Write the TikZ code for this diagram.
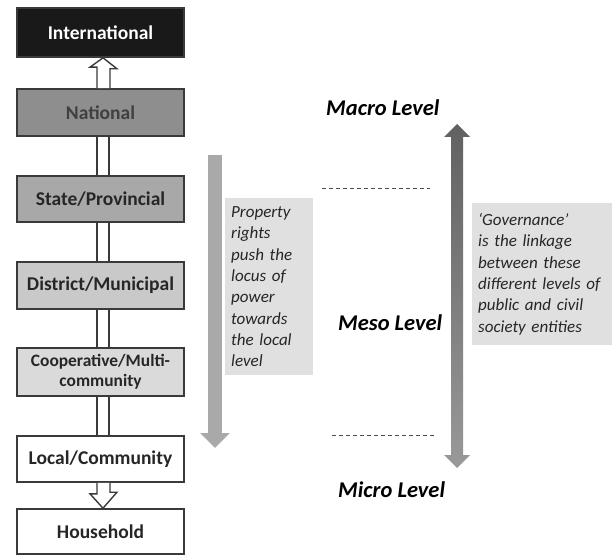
\documentclass[tikz,border=0pt]{standalone}
\usepackage{fontspec}
\setmainfont{Carlito}
\usetikzlibrary{arrows.meta}
\definecolor{edgec}{HTML}{3A3A3A}
\definecolor{natc}{HTML}{8E8E8E}
\definecolor{statec}{HTML}{A8A8A8}
\definecolor{distc}{HTML}{C9C9C9}
\definecolor{coopc}{HTML}{DADADA}
\definecolor{notec}{HTML}{E0E0E0}
\definecolor{garrow}{HTML}{A9A9A9}
\begin{document}
\begin{tikzpicture}[x=1pt,y=-1pt,
  lvl/.style={draw=edgec,line width=1.6pt,minimum width=167pt,inner sep=0pt,font=\bfseries\fontsize{19.5}{21}\selectfont,text=black!85,align=center},
  hollow/.style={draw=edgec,line width=1.4pt,fill=white,line join=miter},
  dbl/.style={draw=edgec,line width=1.4pt},
  note/.style={fill=notec,inner sep=6pt,anchor=north west,align=left,font=\itshape\fontsize{17}{21.3}\selectfont,text=black!85},
  lvltext/.style={font=\bfseries\itshape\fontsize{22.5}{24}\selectfont,anchor=west,inner sep=0pt},
  sep/.style={draw=black!70,dashed,line width=0.8pt,dash pattern=on 4pt off 3pt}]
\useasboundingbox (0,0) rectangle (612,556);
\fill[white] (0,0) rectangle (612,556);

% level boxes
\node[lvl,fill=black!90,text=white,minimum height=49pt] (int) at (100.5,32.5) {International};
\node[lvl,fill=natc,text=black!75,minimum height=47pt] (nat) at (100.5,112.5) {National};
\node[lvl,fill=statec,minimum height=46pt] (st) at (100.5,199) {State/Provincial};
\node[lvl,fill=distc,minimum height=47pt] (dm) at (100.5,285.5) {District/Municipal};
\node[lvl,fill=coopc,minimum height=48pt,font=\bfseries\fontsize{17.4}{20}\selectfont] (co) at (100.5,372) {Cooperative/Multi-\\community};
\node[lvl,fill=white,minimum height=46pt] (lc) at (100.5,459) {Local/Community};
\node[lvl,fill=white,minimum height=45pt] (hh) at (100.5,531.5) {Household};

% hollow up arrow National -> International
\draw[hollow] ([xshift=-3.5pt]nat.north) -- ++(0,-21) -- ++(-7,0) -- ([xshift=2.5pt]int.south) -- ([xshift=16.5pt,yshift=-11pt]int.south) -- ++(-7,0) -- ([xshift=9.5pt]nat.north);
% double lines
\draw[dbl] ([xshift=-3.5pt]st.north) -- ([xshift=-3.5pt]nat.south);
\draw[dbl] ([xshift=8.5pt]st.north) -- ([xshift=8.5pt]nat.south);
\draw[dbl] ([xshift=-3.5pt]dm.north) -- ([xshift=-3.5pt]st.south);
\draw[dbl] ([xshift=8.5pt]dm.north) -- ([xshift=8.5pt]st.south);
\draw[dbl] ([xshift=-3.5pt]co.north) -- ([xshift=-3.5pt]dm.south);
\draw[dbl] ([xshift=8.5pt]co.north) -- ([xshift=8.5pt]dm.south);
\draw[dbl] ([xshift=-3.5pt]lc.north) -- ([xshift=-3.5pt]co.south);
\draw[dbl] ([xshift=8.5pt]lc.north) -- ([xshift=8.5pt]co.south);
% hollow down arrow Local -> Household
\draw[hollow] ([xshift=-3.5pt]lc.south) -- ++(0,11) -- ++(-7,0) -- ([xshift=2.5pt]hh.north) -- ([xshift=16.5pt,yshift=16pt]hh.north) -- ++(-7,0) -- ([xshift=9.5pt]lc.south);

% left gray arrow and note
\coordinate (la1) at (215,155);
\coordinate (la2) at (215,448);
\draw[garrow,line width=14pt,-{Triangle[width=29pt,length=15pt]}] (la1) -- (la2);
\node[note,text width=76pt,minimum height=177pt,inner ysep=4pt] (prop) at (225,198) {Property\\rights\\push the\\locus of\\power\\towards\\the local\\level};

% level labels
\node[lvltext] (macro) at (326,108) {Macro Level};
\node[lvltext] (meso) at (338,323) {Meso Level};
\node[lvltext] (micro) at (338,490) {Micro Level};
\coordinate (d1a) at (322,188); \coordinate (d1b) at (430,188);
\coordinate (d2a) at (332,435); \coordinate (d2b) at (436,435);
\draw[sep] (d1a) -- (d1b);
\draw[sep] (d2a) -- (d2b);

% right double arrow
\coordinate (rt) at (457,124);
\coordinate (rb) at (457,468);
\shade[top color=black!62,bottom color=black!40]
  (rt) -- ++(13,13) -- ++(-7,0) -- ++(0,318) -- ++(7,0) -- (rb) -- ++(-13,-13) -- ++(7,0) -- ++(0,-318) -- ++(-7,0) -- cycle;

\node[note,text width=130pt,minimum height=142pt,minimum width=140pt,inner ysep=5pt] (gov) at (472,203) {‘Governance’\\is the linkage\\between these\\different levels of\\public and civil\\society entities};
\end{tikzpicture}
\end{document}
